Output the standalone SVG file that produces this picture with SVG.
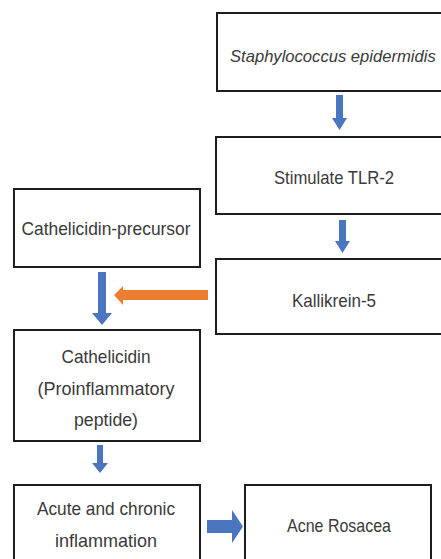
<svg xmlns="http://www.w3.org/2000/svg" width="441" height="559" viewBox="0 0 441 559">
<style>
.box{fill:#fff;stroke:#1e1e1e;stroke-width:2}
.t{font-family:"Liberation Sans",Arial,sans-serif;font-size:18.5px;fill:#3a3a3a;text-anchor:middle}
.blue{fill:#4a76c0}
.orange{fill:#ed7d31}
</style>
<rect width="441" height="559" fill="#fff"/>
<g id="staph">
<rect class="box" x="217" y="13" width="240" height="78"/>
<text class="t" x="230" y="62" style="text-anchor:start;font-style:italic;font-size:16.6px">Staphylococcus epidermidis</text>
</g>
<g id="tlr2">
<rect class="box" x="216" y="137" width="240" height="77"/>
<text class="t" x="334" y="184" textLength="120" lengthAdjust="spacingAndGlyphs">Stimulate TLR-2</text>
</g>
<g id="kallikrein">
<rect class="box" x="216" y="259" width="240" height="75"/>
<text class="t" x="334" y="307" textLength="84" lengthAdjust="spacingAndGlyphs">Kallikrein-5</text>
</g>
<g id="precursor">
<rect class="box" x="14" y="189" width="186" height="78"/>
<text class="t" x="106" y="235" textLength="169" lengthAdjust="spacingAndGlyphs">Cathelicidin-precursor</text>
</g>
<g id="cathelicidin">
<rect class="box" x="14" y="330" width="186" height="111"/>
<text class="t" x="106" y="363" textLength="89" lengthAdjust="spacingAndGlyphs">Cathelicidin</text>
<text class="t" x="106" y="395" textLength="137" lengthAdjust="spacingAndGlyphs">(Proinflammatory</text>
<text class="t" x="106" y="426" textLength="64" lengthAdjust="spacingAndGlyphs">peptide)</text>
</g>
<g id="inflammation">
<rect class="box" x="14" y="485" width="186" height="90"/>
<text class="t" x="106" y="515" textLength="138" lengthAdjust="spacingAndGlyphs">Acute and chronic</text>
<text class="t" x="106" y="547" textLength="102" lengthAdjust="spacingAndGlyphs">inflammation</text>
</g>
<g id="rosacea">
<rect class="box" x="245" y="485" width="186" height="90"/>
<text class="t" x="339" y="532" textLength="104" lengthAdjust="spacingAndGlyphs">Acne Rosacea</text>
</g>
<g id="connectors">
<polygon class="blue" points="336,95 343,95 343,118 347,118 339.5,130 332,118 336,118"/>
<polygon class="blue" points="339,220 346,220 346,241 350,241 342.5,253 335,241 339,241"/>
<polygon class="blue" points="98,272 106,272 106,313 112,313 102,325 92,313 98,313"/>
<polygon class="orange" points="208,290 208,300 123,300 123,305 114,295 123,286 123,290"/>
<polygon class="blue" points="97,445 103,445 103,463 108,463 100,473 92,463 97,463"/>
<polygon class="blue" points="207,520 232,520 232,510 243,526.5 232,543 232,533 207,533"/>
</g>
</svg>
